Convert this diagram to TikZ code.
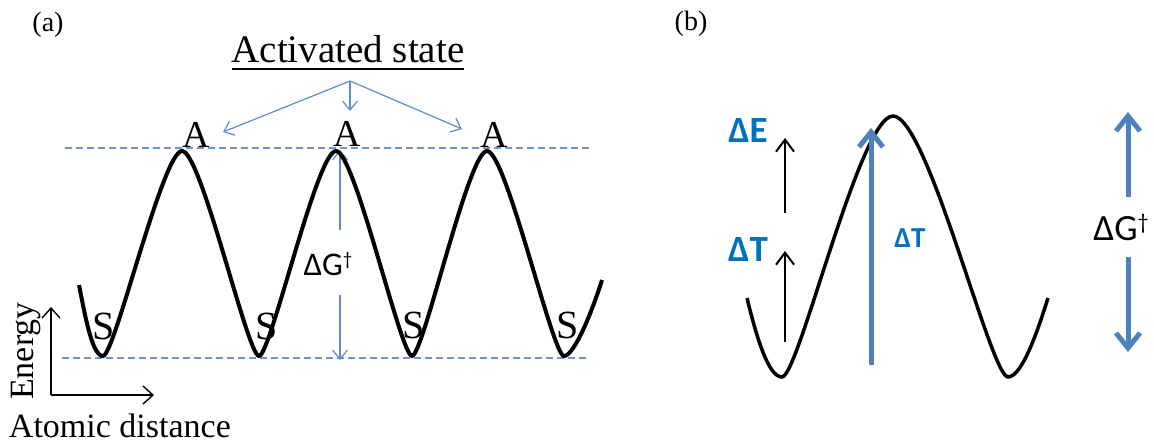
\documentclass[tikz,border=0pt]{standalone}
\usepackage{fontspec}
\setmainfont{Liberation Serif}
\newfontfamily\calib{Carlito}
\usetikzlibrary{arrows.meta}
\definecolor{dashblue}{RGB}{110,150,205}
\definecolor{thinblue}{RGB}{95,140,200}
\definecolor{thickblue}{RGB}{79,129,189}
\definecolor{txtblue}{RGB}{0,112,192}
\begin{document}
\begin{tikzpicture}[x=1pt,y=-1pt,
  lbl/.style={inner sep=0pt,outer sep=0pt},
  serifA/.style={lbl,font=\fontsize{38}{40}\selectfont},
  serifS/.style={lbl,font=\fontsize{40}{42}\selectfont},
  tag/.style={lbl,font=\fontsize{28}{30}\selectfont},
  axlbl/.style={lbl,font=\fontsize{34}{36}\selectfont},
  sansG/.style={lbl,font=\calib\fontsize{33}{35}\selectfont},
  bluebold/.style={lbl,text=txtblue,font=\calib\bfseries\fontsize{37}{39}\selectfont},
  dashln/.style={draw=dashblue,line width=1.4pt,dash pattern=on 7pt off 4pt},
  wave/.style={draw=black,line width=4pt},
  waveb/.style={draw=black,line width=3.5pt},
  thinarrow/.style={draw=thinblue,line width=1.2pt,-{Straight Barb[length=9pt,width=15pt]}},
  axarrow/.style={draw=black,line width=1.4pt,-{Straight Barb[length=10pt,width=18pt]}},
  blkarrow/.style={draw=black,line width=2pt,-{Straight Barb[length=12pt,width=18pt]}},
  fatarrow/.style={draw=thickblue,line width=5pt,-{Straight Barb[length=15pt,width=24pt]}}
]
\useasboundingbox (0,0) rectangle (1154,445);

% ---------------- panel (a) ----------------
\node[tag,anchor=base] (taga) at (48,31) {(a)};
\node[lbl,anchor=base,font=\fontsize{39}{42}\selectfont] (act) at (348,62) {Activated state};
\draw[line width=1.8pt] ([yshift=-7pt]act.base west) -- ([yshift=-7pt]act.base east);

% dashed levels
\coordinate (tl) at (65,148);  \coordinate (tr) at (590,148);
\coordinate (bl) at (62,358);  \coordinate (br) at (587,358);
\draw[dashln] (tl) -- (tr);
\draw[dashln] (bl) -- (br);

% A labels
\node[serifA,anchor=base] (A1) at (196,147) {A};
\node[serifA,anchor=base] (A2) at (347,146) {A};
\node[serifA,anchor=base] (A3) at (494,147) {A};

% arrows from activated state
\coordinate (src) at (350,81);
\coordinate (t1) at (223,132);
\coordinate (t2) at (350,111);
\coordinate (t3) at (462,129);
\draw[thinarrow] (src) -- (t1);
\draw[thinarrow] (src) -- (t2);
\draw[thinarrow] (src) -- (t3);

% Delta G arrow
\node[sansG,anchor=base] (dGa) at (328,275) {ΔG\raisebox{0.6ex}{\fontsize{19}{20}\selectfont †}};
\coordinate (gtop) at (340,150);
\coordinate (gbot) at (340,360);
\coordinate (gu) at (340,230);
\coordinate (gd) at (340,295);
\draw[thinarrow] (gu) -- (gtop);
\draw[thinarrow] (gd) -- (gbot);

% wave (a)
\draw[wave] (79,285) .. controls (85,315) and (92,356) .. (103,356)
  .. controls (114.5,356) and (162.75,151) .. (182,151)
  .. controls (201.25,151) and (247.45,356) .. (259,356)
  .. controls (270.55,356) and (316.75,151) .. (336,151)
  .. controls (354.75,151) and (400.75,356) .. (412,356)
  .. controls (423.25,356) and (468.25,151) .. (487,151)
  .. controls (506,151) and (552.6,356) .. (564,356)
  .. controls (574,356) and (592,312) .. (602,280);

% S labels
\node[serifS,anchor=base] (S1) at (104,339) {S};
\node[serifS,anchor=base] (S2) at (267,339) {S};
\node[serifS,anchor=base] (S3) at (414,338) {S};
\node[serifS,anchor=base] (S4) at (568,338) {S};

% axes
\coordinate (O) at (51,395);
\coordinate (Ey) at (51,307);
\coordinate (Ax) at (154,395);
\draw[axarrow] (O) -- (Ey);
\draw[axarrow] (O) -- (Ax);
\node[axlbl,rotate=90] (energy) at (26,351) {Energy};
\node[axlbl,anchor=base west] (atd) at (9,437) {Atomic distance};

% ---------------- panel (b) ----------------
\node[tag,anchor=base] (tagb) at (691,30) {(b)};

\draw[waveb] (747,298) .. controls (756,335) and (768,377) .. (782,377)
  .. controls (798.6,377) and (859.7,116) .. (893,116)
  .. controls (927.5,116) and (990.75,377) .. (1008,377)
  .. controls (1022,377) and (1038,330) .. (1048,298);

% central thick arrow
\coordinate (mb) at (871,365);
\coordinate (mt) at (871,128);
\draw[fatarrow] (mb) -- (mt);
\node[bluebold,anchor=base,font=\calib\bfseries\fontsize{29}{31}\selectfont] (dTm) at (910,247) {ΔT};

% left labels and arrows
\node[bluebold,anchor=base] (dE) at (748,142) {ΔE};
\node[bluebold,anchor=base] (dT) at (748,261) {ΔT};
\coordinate (k1) at (785,342); \coordinate (k2) at (785,251);
\coordinate (k3) at (785,213); \coordinate (k4) at (785,138);
\draw[blkarrow] (k1) -- (k2);
\draw[blkarrow] (k3) -- (k4);

% right double arrow
\node[lbl,anchor=base,font=\calib\fontsize{37}{39}\selectfont] (dGb) at (1121,240) {ΔG\raisebox{0.6ex}{\fontsize{22}{24}\selectfont †}};
\coordinate (r1) at (1128,197); \coordinate (r2) at (1128,112);
\coordinate (r3) at (1128,257); \coordinate (r4) at (1128,352);
\draw[fatarrow] (r1) -- (r2);
\draw[fatarrow] (r3) -- (r4);
\end{tikzpicture}
\end{document}
